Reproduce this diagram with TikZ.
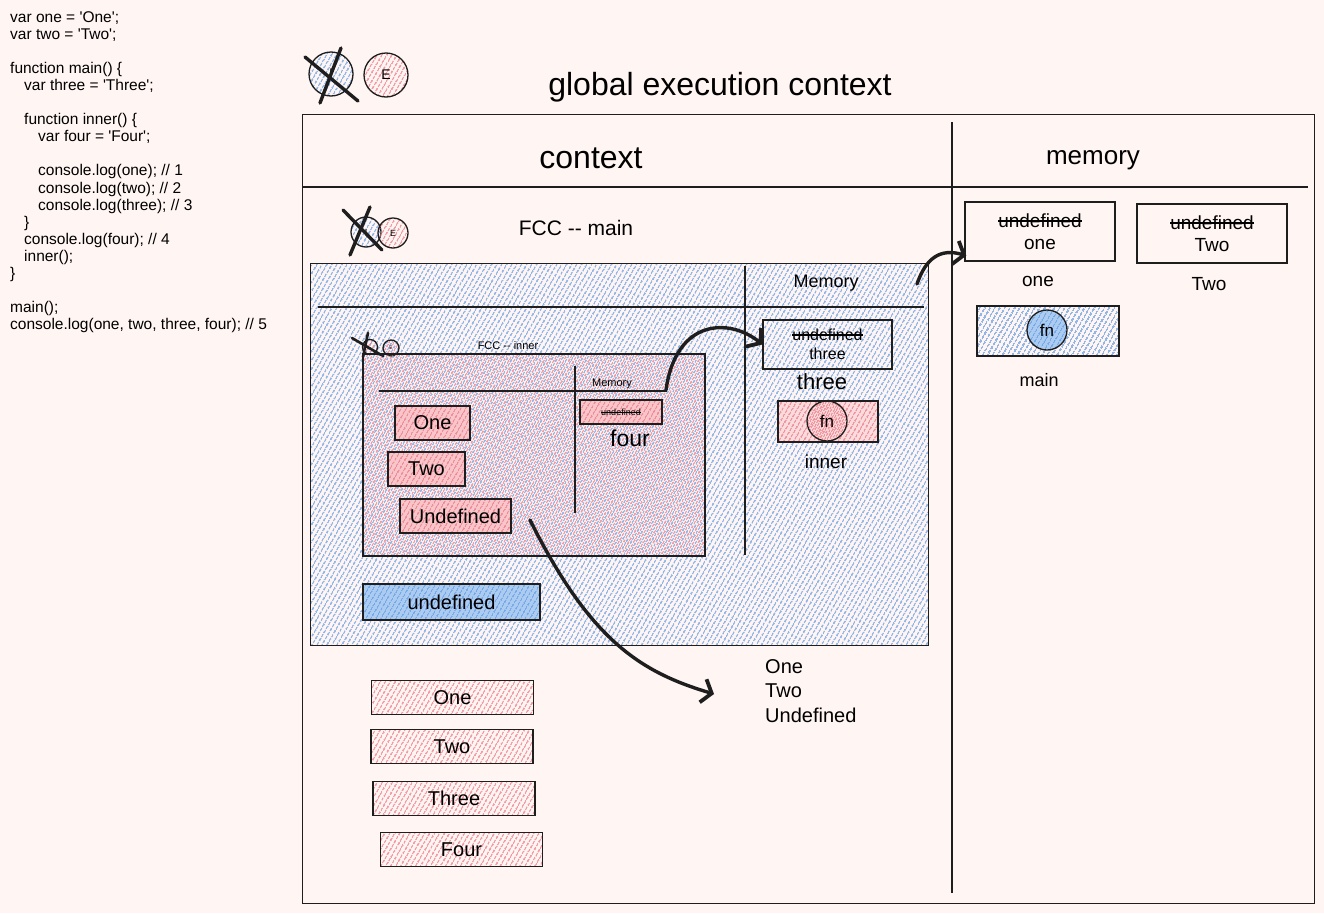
\documentclass[tikz,border=0pt]{standalone}
\usepackage{fontspec}
\setmainfont{Liberation Sans}
\usetikzlibrary{patterns.meta,arrows.meta,calc}

\definecolor{paper}{RGB}{255,245,243}
\definecolor{hatchblue}{RGB}{88,150,226}
\definecolor{hatchred}{RGB}{236,110,122}
\definecolor{ink}{RGB}{30,30,30}

\newcommand{\fsz}[1]{\fontsize{#1}{#1}\selectfont}
\newcommand{\q}{\textquotesingle}
\newsavebox{\strkbox}
\newcommand{\strk}[1]{\sbox{\strkbox}{#1}\rlap{\raisebox{0.3em}{\rule{\wd\strkbox}{0.09em}}}\usebox{\strkbox}}

\begin{document}
\begin{tikzpicture}[x=1pt, y=-1pt,
        sketch/.style={draw=ink, line width=1.3pt},
        blueh/.style={pattern={Lines[angle=60,distance=4pt,line width=1.3pt]}, pattern color=hatchblue},
        redh/.style={pattern={Lines[angle=60,distance=4pt,line width=1.3pt]}, pattern color=hatchred},
        cell/.style 2 args={sketch, inner sep=0pt, minimum width=#1pt, minimum height=#2pt},
        blob/.style={circle, sketch, inner sep=0pt, minimum size=#1pt},
        lbl/.style={font=\fsz{#1}, inner sep=0pt},
        xline/.style={line width=3.4pt, draw=ink, line cap=round},
        conn/.style={line width=3.4pt, line cap=round, draw=ink,
            -{Straight Barb[length=9pt,width=24pt,line width=3.8pt]}}
    ]

    \fill[paper] (0,0) rectangle (1324,913);
    \useasboundingbox (0,0) rectangle (1324,913);

    % source code
    \node[anchor=north west, align=left, inner sep=0pt, font=\fontsize{15.5}{17.1}\selectfont] (code) at (10,11) {%
        var one = \q One\q;\\
        var two = \q Two\q;\\
        \mbox{}\\
        function main() \{\\
        \hspace*{14pt}var three = \q Three\q;\\
        \mbox{}\\
        \hspace*{14pt}function inner() \{\\
        \hspace*{28pt}var four = \q Four\q;\\
        \mbox{}\\
        \hspace*{28pt}console.log(one); // 1\\
        \hspace*{28pt}console.log(two); // 2\\
        \hspace*{28pt}console.log(three); // 3\\
        \hspace*{14pt}\}\\
        \hspace*{14pt}console.log(four); // 4\\
        \hspace*{14pt}inner();\\
        \}\\
        \mbox{}\\
        main();\\
        console.log(one, two, three, four); // 5};

    % global execution context
    \node[blob=44, blueh] (Ig) at (331,74) {\fsz{14}I};
    \node[blob=44, redh] (Eg) at (386,75) {\fsz{14}E};
    \draw[xline] ($(Ig)+(-26,-17)$) -- ($(Ig)+(27,27)$);
    \draw[xline] ($(Ig)+(10,-26)$) -- ($(Ig)+(-11,29)$);
    \node[lbl=32] (title) at (720,87) {global execution context};

    \node[cell={1012}{789}, anchor=north west] (gec) at (302,114) {};
    \draw[sketch] (952,122) -- (952,893);
    \draw[sketch] (302,187) -- (1308,187);
    \node[lbl=32] (ctx) at (591,158) {context};
    \node[lbl=26] (mem) at (1093,160) {memory};

    % FCC main
    \node[blob=30, blueh] (Im) at (366,232) {\fsz{9}I};
    \node[blob=30, redh] (Em) at (393,233) {\fsz{9}E};
    \draw[xline] ($(Im)+(-23,-22)$) -- ($(Im)+(16,18)$);
    \draw[xline] ($(Im)+(4,-25)$) -- ($(Im)+(-16,23)$);
    \node[lbl=21] (fccmain) at (576,228) {FCC -{}- main};

    \node[cell={618}{382}, blueh, anchor=north west] (mainfcc) at (310,263) {};
    \draw[sketch] (318,307) -- (924,307);
    \draw[sketch] (745,266) -- (745,555);
    \node[lbl=18] (mainmem) at (826,283) {Memory};

    \node[cell={129}{49}, align=center, font=\fsz{16}] (threebox) at (827.5,344.5) {\strk{undefined}\\[3pt]three};
    \node[lbl=22] (threelbl) at (822,382) {three};
    \node[cell={100}{41}, redh, preaction={fill=hatchred!25}] (innerfn) at (828,421.5) {};
    \node[blob=40, redh] (innerfnc) at (827,421) {\fsz{17}fn};
    \node[lbl=19] (innerlbl) at (826,462) {inner};

    % FCC inner
    \node[blob=15, redh] (Ii) at (370,347) {};
    \node[blob=16, redh] (Ei) at (391,348) {\fsz{5}E};
    \draw[xline, line width=2.6pt] ($(Ii)+(-18,-9)$) -- ($(Ii)+(13,9)$);
    \draw[xline, line width=2.6pt] ($(Ii)+(-2,-14)$) -- ($(Ii)+(-7,10)$);
    \node[lbl=11] (fccinner) at (508,346) {FCC -{}- inner};

    \node[cell={342}{202}, redh] (innerfcc) at (534,455) {};
    \draw[sketch] (379,391) -- (667,391);
    \draw[sketch] (575,366) -- (575,513);
    \node[lbl=11] (innermem) at (612,384) {Memory};
    \node[cell={82}{24}, redh, preaction={fill=hatchred!40}, font=\fsz{9}] (fourbox) at (621,412) {\strk{undefined}};
    \node[lbl=23] (fourlbl) at (630,438) {four};

    \foreach \txt/\cx/\cy/\w [count=\n from 1] in {One/432.5/423/75, Two/426.5/469/77, Undefined/455.5/516/111} {
            \node[cell={\w}{34}, redh, preaction={fill=hatchred!40}, font=\fsz{20}] (v\n) at (\cx,\cy) {\txt};
        }

    \node[cell={177}{36}, blueh, preaction={fill=hatchblue!50}, font=\fsz{20}] (undblue) at (451.5,602) {undefined};

    % console output
    \foreach \txt/\cx/\cy [count=\n from 1] in {One/452.5/697.5, Two/452/746.5, Three/454/798.5, Four/461.5/849.5} {
            \node[cell={162}{34}, redh, font=\fsz{20}] (out\n) at (\cx,\cy) {\txt};
        }
    \node[anchor=north west, align=left, inner sep=0pt, font=\fontsize{20}{24.5}\selectfont] (logtxt) at (765,659) {One\\Two\\Undefined};

    % global memory
    \node[cell={150}{59}, align=center, font=\fsz{19}] (onebox) at (1040,231.5) {\strk{undefined}\\[3pt]one};
    \node[cell={150}{59}, align=center, font=\fsz{19}] (twobox) at (1212,233.5) {\strk{undefined}\\[3pt]Two};
    \node[lbl=19] (onelbl) at (1038,281) {one};
    \node[lbl=19] (twolbl) at (1209,284) {Two};
    \node[cell={142}{50}, blueh] (mainfn) at (1048,331) {};
    \node[blob=40, blueh, preaction={fill=hatchblue!50}] (mainfnc) at (1047,330) {\fsz{17}fn};
    \node[lbl=18] (mainlbl) at (1039,380) {main};

    % pointers
    \coordinate (innfrom) at (666,390);
    \coordinate (mainfrom) at (917,284);
    \coordinate (onein) at ($(onebox.south west)+(2,-6)$);
    \coordinate (undfrom) at (530,520);
    \coordinate (logto) at (714,694);
    \draw[conn] (innfrom) .. controls (676,318) and (730,318) .. (threebox.west);
    \draw[conn] (mainfrom) .. controls (926,258) and (940,248) .. (onein);
    \draw[conn] (undfrom) .. controls (590,640) and (640,672) .. (logto);
\end{tikzpicture}
\end{document}
